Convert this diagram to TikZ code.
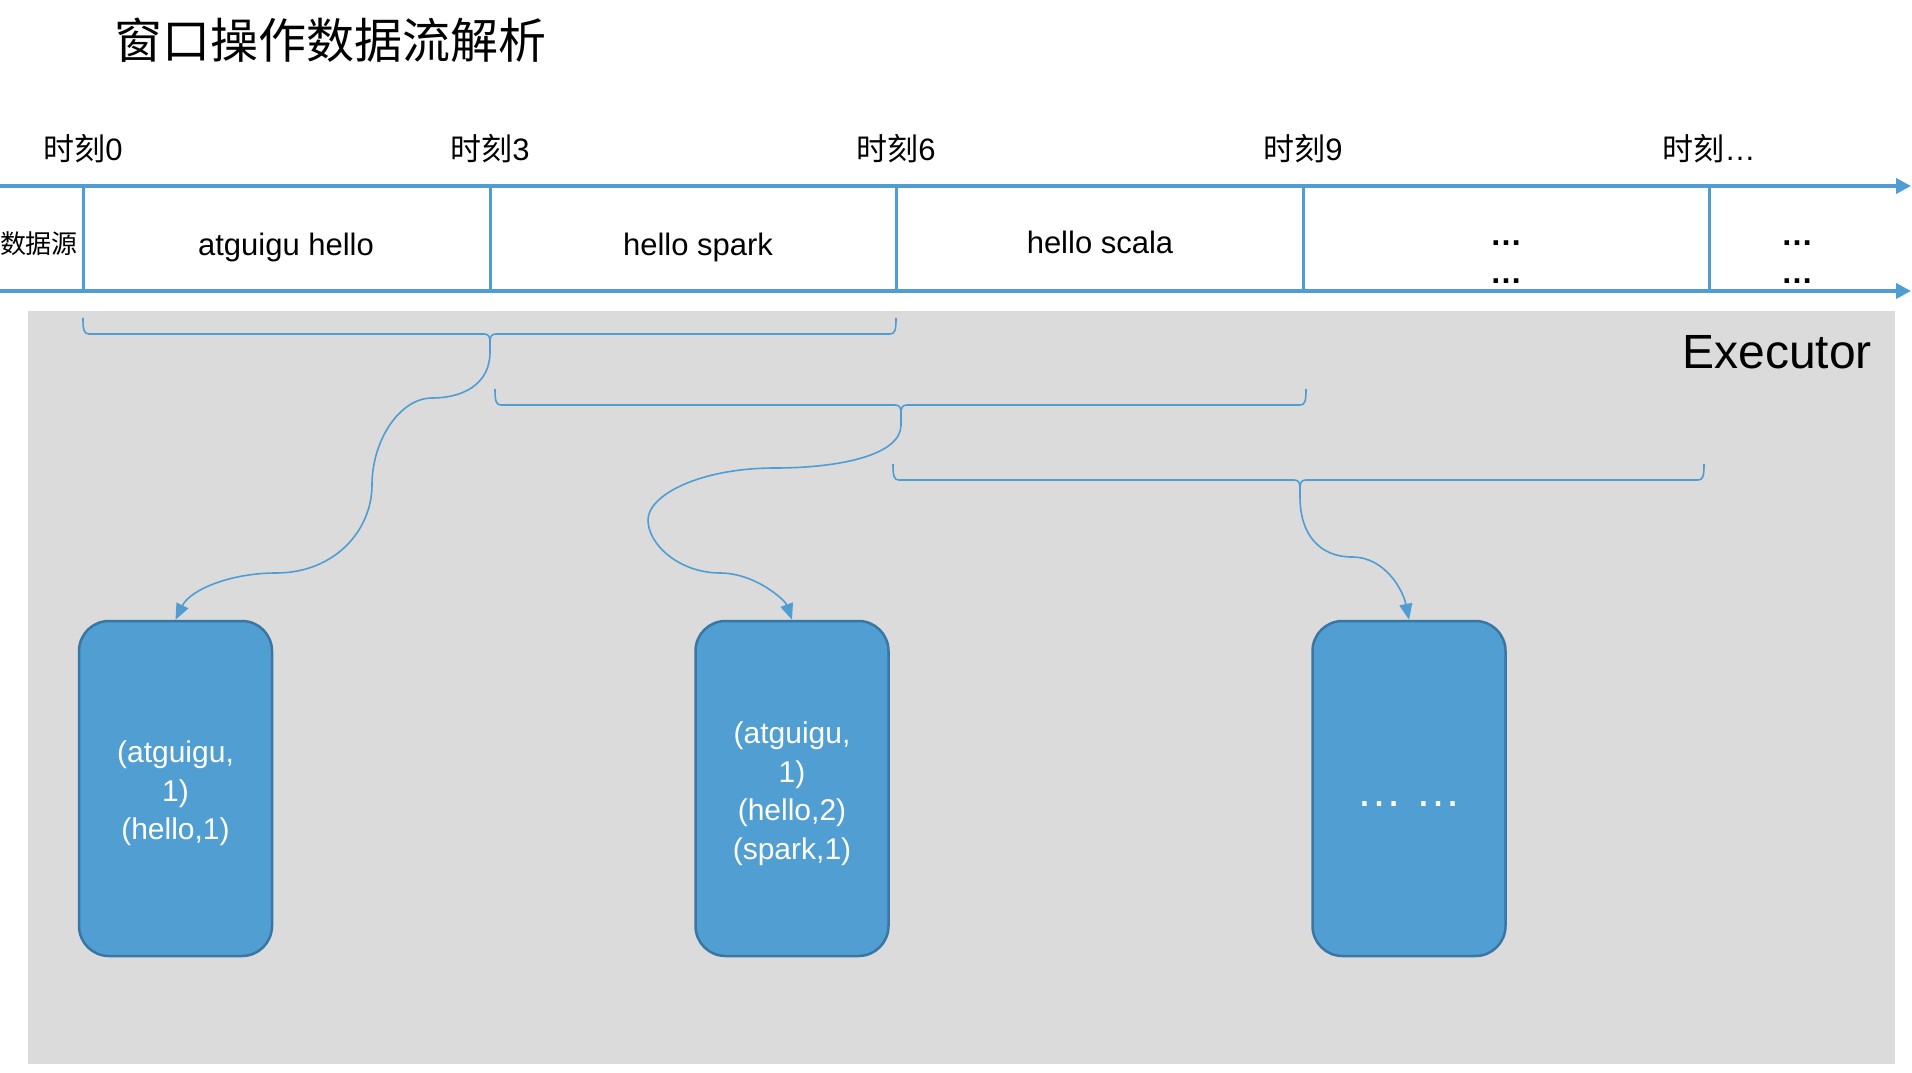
\documentclass[tikz,border=0pt]{standalone}
\usepackage{fontspec}
\setmainfont{Liberation Sans}
\newfontfamily\cjk{Noto Sans CJK SC}
\usetikzlibrary{arrows.meta}
\definecolor{lineblue}{RGB}{80,157,212}
\definecolor{boxblue}{RGB}{81,158,210}
\definecolor{boxedge}{RGB}{58,118,163}
\definecolor{panel}{RGB}{219,219,219}
\newcommand\wbrace[4]{%
  \draw[bracketline] (#1,#3) .. controls (#1,#3+12) and (#1+1,#3+16) .. (#1+6,#3+16)
    -- (#4-6,#3+16) .. controls (#4-2,#3+16) and (#4,#3+18) .. (#4,#3+24)
    .. controls (#4,#3+18) and (#4+2,#3+16) .. (#4+6,#3+16)
    -- (#2-6,#3+16) .. controls (#2-1,#3+16) and (#2,#3+12) .. (#2,#3);}
\begin{document}
\begin{tikzpicture}[x=1pt,y=-1pt,
  timeline/.style={draw=lineblue, line width=4pt, -{Triangle[length=15pt,width=15pt]}},
  cellsep/.style={draw=lineblue, line width=3pt},
  bracketline/.style={draw=lineblue, line width=1.6pt},
  flow/.style={draw=lineblue, line width=1.6pt, -{Triangle[length=16pt,width=13pt]}},
  resultbox/.style={draw=boxedge, fill=boxblue, line width=2.5pt, rounded corners=30pt,
    minimum width=193pt, minimum height=335pt, inner sep=0pt},
  boxtext/.style={text=white, align=center, font=\fontsize{30}{38.5}\selectfont, inner sep=0pt},
  lbl/.style={inner sep=0pt, anchor=base},
  celltext/.style={inner sep=0pt, anchor=base, font=\fontsize{31}{37}\selectfont},
]
\useasboundingbox[fill=white] (0,0) rectangle (1912,1073);
% executor panel
\fill[panel] (28,311) rectangle (1895,1064);
\node[inner sep=0pt, anchor=base east, font=\fontsize{48}{56}\selectfont] (exec) at (1872,368) {Executor};

% title
\node[inner sep=0pt, anchor=base west, font=\fontsize{48}{56}\selectfont\cjk] (title) at (114,59) {窗口操作数据流解析};

% time labels
\node[celltext] (m0) at (83,160) {{\cjk 时刻}0};
\node[celltext] (m3) at (490,160) {{\cjk 时刻}3};
\node[celltext] (m6) at (896,160) {{\cjk 时刻}6};
\node[celltext] (m9) at (1303,160) {{\cjk 时刻}9};
\node[celltext] (mx) at (1709,160) {{\cjk 时刻}…};

% timeline
\coordinate (ta) at (0,186);
\coordinate (tb) at (1911,186);
\coordinate (ba) at (0,291);
\coordinate (bb) at (1911,291);
\draw[timeline] (ta) -- (tb);
\draw[timeline] (ba) -- (bb);
\foreach \x/\n in {83/s0,490/s3,896/s6,1303/s9,1709/sx}{
  \coordinate (\n top) at (\x,186);
  \coordinate (\n bot) at (\x,291);
  \draw[cellsep] (\n top) -- (\n bot);
}

% row contents
\node[lbl, font=\fontsize{26}{30}\selectfont\cjk] (src) at (39,253) {数据源};
\node[celltext] (c1) at (286,255) {atguigu hello};
\node[celltext] (c2) at (698,255) {hello spark};
\node[celltext] (c3) at (1100,253) {hello scala};
\node[celltext, font=\fontsize{32}{37}\selectfont\bfseries] (c4a) at (1506,245) {…};
\node[celltext, font=\fontsize{32}{37}\selectfont\bfseries] (c4b) at (1506,283) {…};
\node[celltext, font=\fontsize{32}{37}\selectfont\bfseries] (c5a) at (1797,245) {…};
\node[celltext, font=\fontsize{32}{37}\selectfont\bfseries] (c5b) at (1797,283) {…};

% result boxes
\node[resultbox] (r1) at (175.5,788.5) {};
\node[boxtext] (r1t) at (175.5,793.5) {(atguigu,\\1)\\(hello,1)};
\node[resultbox] (r2) at (792,788.5) {};
\node[boxtext] (r2t) at (792,793.5) {(atguigu,\\1)\\(hello,2)\\(spark,1)};
\node[resultbox] (r3) at (1409,788.5) {};
\node[lbl, text=white, font=\fontsize{46}{50}\selectfont] (r3t) at (1409,806) {… …};

% window braces
\wbrace{83}{896}{318}{490}
\wbrace{495}{1306}{389}{901}
\wbrace{893}{1704}{464}{1300}
\coordinate (w1) at (490,342);
\coordinate (w2) at (901,413);
\coordinate (w3) at (1300,488);

% connectors
\draw[flow] (w1) -- (490,352) .. controls (490,385) and (462,398) .. (432,398)
  .. controls (400,398) and (372,440) .. (372,485)
  .. controls (372,530) and (335,573) .. (276,573)
  .. controls (230,573) and (190,590) .. (r1.north);
\draw[flow] (w2) -- (901,425) .. controls (901,455) and (840,468) .. (775,468)
  .. controls (700,468) and (648,495) .. (648,520)
  .. controls (648,545) and (680,573) .. (720,573)
  .. controls (755,573) and (785,600) .. (r2.north);
\draw[flow] (w3) -- (1300,497) .. controls (1300,535) and (1320,557) .. (1352,557)
  .. controls (1385,557) and (1403,590) .. (r3.north);
\end{tikzpicture}
\end{document}
